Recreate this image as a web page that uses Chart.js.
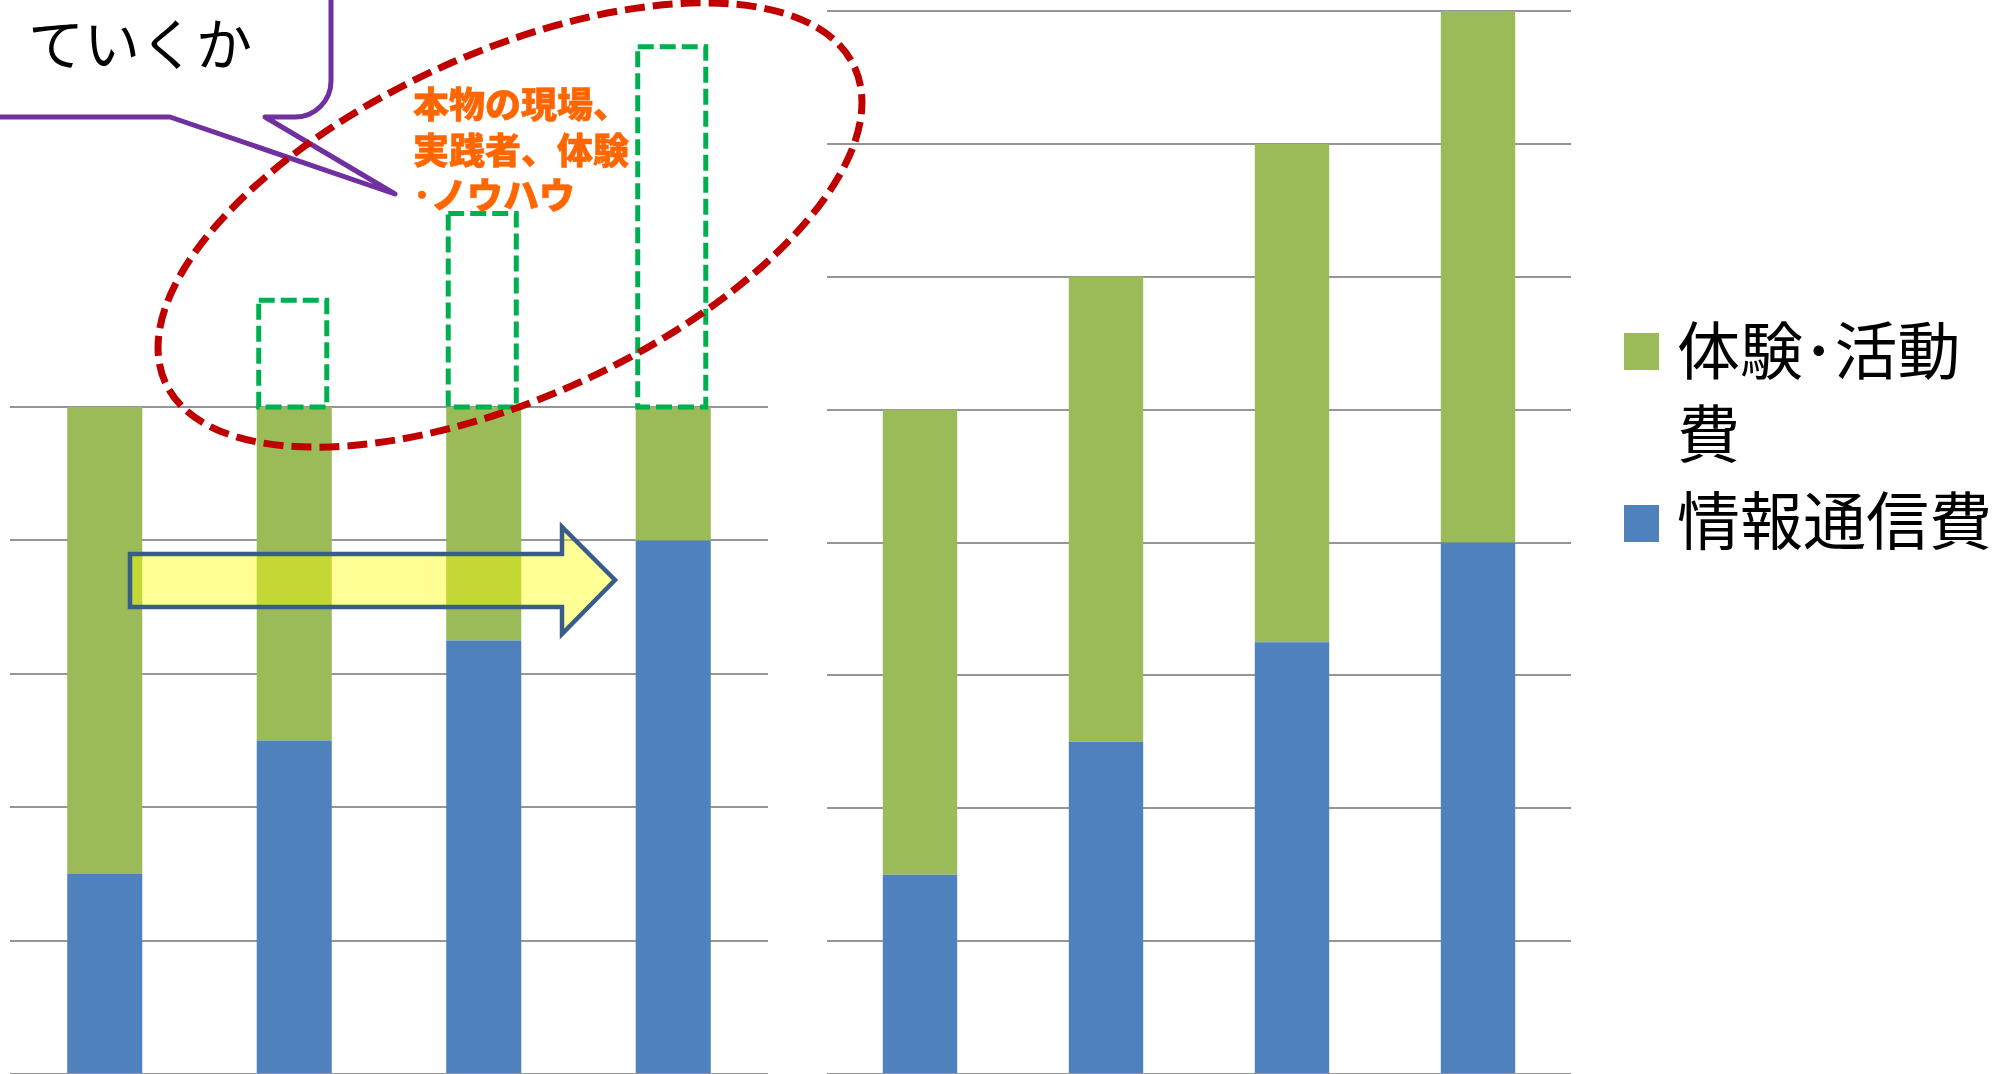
<!DOCTYPE html>
<html lang="ja">
<head>
<meta charset="utf-8">
<title>体験・活動費と情報通信費</title>
<script src="https://cdn.jsdelivr.net/npm/chart.js@4.4.1/dist/chart.umd.min.js"></script>
<style>
  html, body { margin: 0; padding: 0; background: #fff; overflow: hidden; }
  #stage { position: relative; width: 1998px; height: 1074px; }
  canvas { position: absolute; top: 0; }
  #now { left: 0; }
  #plan { left: 817px; }
  #overlay { position: absolute; left: 0; top: 0; pointer-events: none; font-family: 'Noto Sans CJK JP', sans-serif; }
</style>
</head>
<body>
<div id="stage">
  <canvas id="now" width="790" height="1074"></canvas>
  <canvas id="plan" width="770" height="1074"></canvas>
  <svg id="overlay" width="1998" height="1074" viewBox="0 0 1998 1074">
    <!-- speech bubble -->
    <path d="M -10 -10 L 331 -10 L 331 81 A 36 36 0 0 1 295 117 L 265 117 L 395 194 L 170 117 L -10 117 Z"
          fill="#fff" stroke="#7030A0" stroke-width="5" stroke-linejoin="round"/>
    <text x="28" y="65" font-size="56" fill="#000">ていくか</text>

    <!-- block arrow across the bars -->
    <path d="M 130 554 L 562 554 L 562 527 L 615 580 L 562 634 L 562 607 L 130 607 Z"
          fill="rgba(255,255,0,0.41)" stroke="#385D8A" stroke-width="4.5" stroke-linejoin="miter"/>

    <!-- dashed ellipse around the gap boxes -->
    <ellipse cx="510" cy="225" rx="379" ry="172" transform="rotate(-24.6 510 225)"
             fill="none" stroke="#C00000" stroke-width="7" stroke-dasharray="20 8"/>

    <g font-size="36" font-weight="900" fill="#FF6600" stroke="#FF6600" stroke-width="0.5">
      <text x="413" y="118">本物の現場、</text>
      <text x="413" y="164">実践者、体験</text>
      <text x="413" y="209">･ノウハウ</text>
    </g>

    <!-- legend -->
    <rect x="1624" y="333" width="35" height="37" fill="#9BBB59"/>
    <rect x="1624" y="505" width="35" height="37" fill="#4F81BD"/>
    <g font-size="63" fill="#000">
      <text x="1677" y="374">体験･活動</text>
      <text x="1677" y="457">費</text>
      <text x="1677" y="544">情報通信費</text>
    </g>
  </svg>
</div>
<script>
const categories = ['1', '2', '3', '4'];

// current split
const infoNow = [1.5, 2.5, 3.25, 4];
const activityNow = [3.5, 2.5, 1.75, 1];
// shortfall shown as dashed boxes above the current bars
const activityGap = [0, 0.8, 1.45, 2.7];

// planned split
const infoPlan = [1.5, 2.5, 3.25, 4];
const activityPlan = [3.5, 3.5, 3.75, 4];

const yMaxNow = 5;
const yMaxPlan = 8;

const BLUE = '#4F81BD';
const GREEN = '#9BBB59';

function scalesFor(max) {
    return {
        x: { display: false, stacked: true },
        y: {
            stacked: true,
            min: 0,
            max: max,
            ticks: { display: false, stepSize: 1 },
            border: { display: false },
            grid: { color: '#969696', lineWidth: 2, drawTicks: false },
            afterFit: s => { s.width = 0; }
        }
    };
}

// outlines the gap dataset with a dashed green box
const gapOutline = {
    id: 'gapOutline',
    afterDatasetsDraw(chart) {
        const meta = chart.getDatasetMeta(2);
        const ctx = chart.ctx;
        ctx.save();
        ctx.strokeStyle = '#00B050';
        ctx.lineWidth = 5;
        ctx.setLineDash([16, 6]);
        meta.data.forEach((bar, i) => {
            if (!activityGap[i]) return;
            const p = bar.getProps(['x', 'y', 'base', 'width'], true);
            const left = p.x - p.width / 2 + 2;
            const right = p.x + p.width / 2 - 5;
            ctx.strokeRect(left, p.y, right - left, p.base - p.y);
        });
        ctx.restore();
    }
};

Chart.defaults.animation = false;

new Chart(document.getElementById('now').getContext('2d'), {
    type: 'bar',
    data: {
        labels: categories,
        datasets: [
            { label: '情報通信費', data: infoNow, backgroundColor: BLUE },
            { label: '体験・活動費', data: activityNow, backgroundColor: GREEN },
            { label: '不足分', data: activityGap, backgroundColor: 'rgba(0,0,0,0)' }
        ]
    },
    options: {
        responsive: false,
        devicePixelRatio: 1,
        categoryPercentage: 1,
        barPercentage: 0.396,
        layout: { padding: { left: 10, right: 22, top: 407, bottom: 0 } },
        plugins: { legend: { display: false }, tooltip: { enabled: false } },
        scales: scalesFor(yMaxNow)
    },
    plugins: [gapOutline]
});

new Chart(document.getElementById('plan').getContext('2d'), {
    type: 'bar',
    data: {
        labels: categories,
        datasets: [
            { label: '情報通信費', data: infoPlan, backgroundColor: BLUE },
            { label: '体験・活動費', data: activityPlan, backgroundColor: GREEN }
        ]
    },
    options: {
        responsive: false,
        devicePixelRatio: 1,
        categoryPercentage: 1,
        barPercentage: 0.40,
        layout: { padding: { left: 10, right: 16, top: 11, bottom: 0 } },
        plugins: { legend: { display: false }, tooltip: { enabled: false } },
        scales: scalesFor(yMaxPlan)
    }
});
</script>
</body>
</html>
